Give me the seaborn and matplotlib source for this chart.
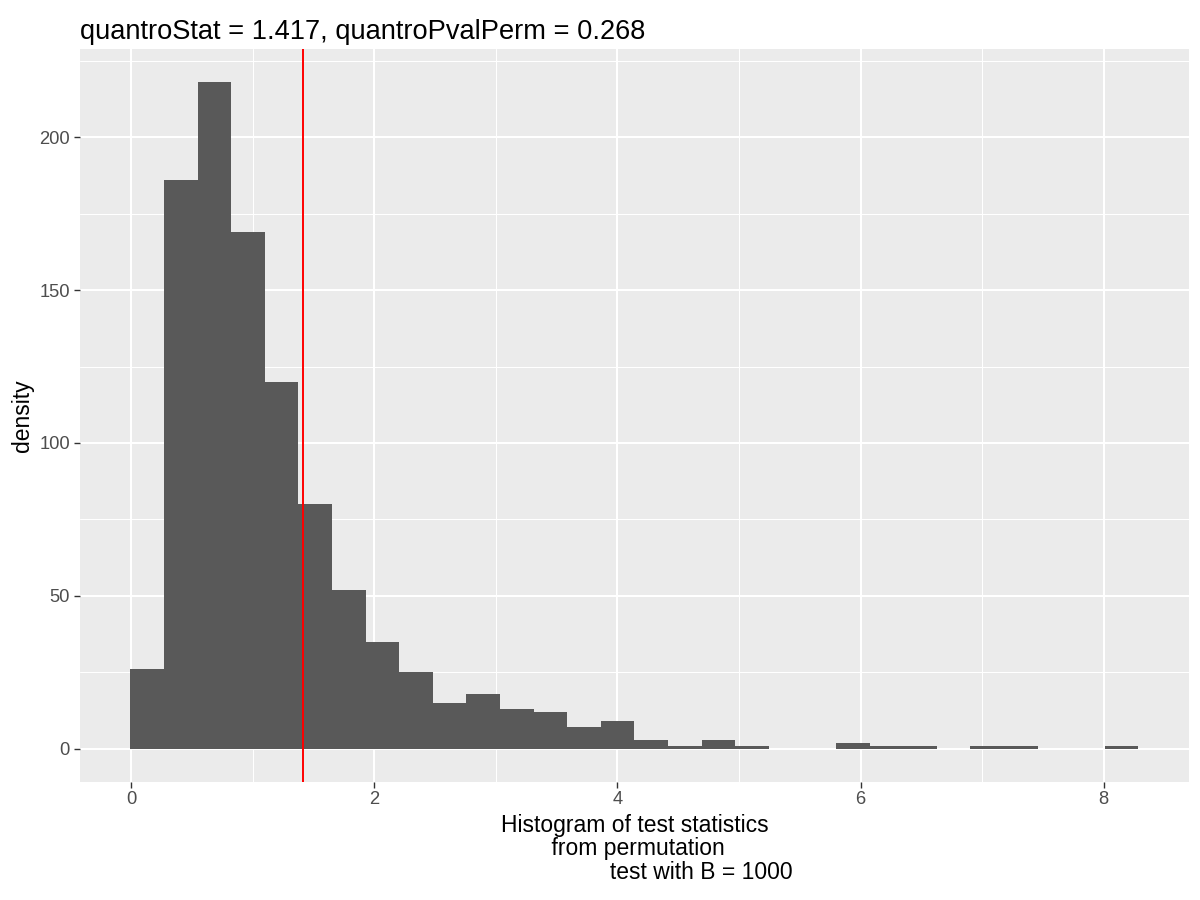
import numpy as np
import matplotlib
matplotlib.use("Agg")
import matplotlib.pyplot as plt
from matplotlib.ticker import MultipleLocator
import seaborn as sns

# counts per bin of the permutation test statistics (30 bins)
bin_start = -0.005
bin_width = 0.2763
counts = [26, 186, 218, 169, 120, 80, 52, 35, 25, 15,
          18, 13, 12, 7, 9, 3, 1, 3, 1, 0,
          0, 2, 1, 1, 0, 1, 1, 0, 0, 1]
quantro_stat = 1.417
pval_perm = 0.268
n_perm = 1000

x_ticks = [0, 2, 4, 6, 8]
y_ticks = [0, 50, 100, 150, 200]

centers = bin_start + bin_width * (np.arange(len(counts)) + 0.5)
bin_end = bin_start + bin_width * len(counts)

sns.set_style("darkgrid", {
    "axes.facecolor": "#EBEBEB",
    "grid.color": "white",
    "axes.edgecolor": "#EBEBEB",
    "xtick.bottom": True,
    "ytick.left": True,
})
plt.rcParams["font.family"] = ["Liberation Sans", "DejaVu Sans"]

fig, ax = plt.subplots(figsize=(12, 9), dpi=100)
fig.subplots_adjust(left=0.0667, right=0.9906, top=0.9456, bottom=0.1311)

sns.histplot(x=centers, weights=counts, binwidth=bin_width,
             binrange=(bin_start, bin_end), color="#595959", alpha=1,
             linewidth=0, ax=ax)
ax.axvline(quantro_stat, color="red", linewidth=1.4, zorder=3)

pad_x = (bin_end - bin_start) * 0.05
ax.set_xlim(bin_start - pad_x, bin_end + pad_x)
ymax = max(counts)
ax.set_ylim(-ymax * 0.05, ymax * 1.05)

ax.set_xticks(x_ticks)
ax.set_yticks(y_ticks)
ax.xaxis.set_minor_locator(MultipleLocator(1))
ax.yaxis.set_minor_locator(MultipleLocator(25))
ax.grid(which="major", color="white", linewidth=1.5)
ax.grid(which="minor", color="white", linewidth=0.75)
ax.set_axisbelow(True)
for s in ax.spines.values():
    s.set_visible(False)

ax.tick_params(axis="both", which="major", length=4, width=1.0,
               color="#333333", labelcolor="#4D4D4D", labelsize=13.2)
ax.tick_params(axis="x", pad=2.5)
ax.tick_params(axis="y", pad=3.3)
ax.tick_params(which="minor", length=0)

ax.set_title(f"quantroStat = {quantro_stat}, quantroPvalPerm = {pval_perm}",
             loc="left", fontsize=19.6, pad=7, color="black")
ax.set_ylabel("density", fontsize=16.5, labelpad=4, color="black")
ax.set_xlabel("Histogram of test statistics\n from permutation\n"
              + " " * 21 + f"test with B = {n_perm}",
              fontsize=16.5, linespacing=1.05, labelpad=4, color="black")

fig.savefig("out.png", dpi=100)
